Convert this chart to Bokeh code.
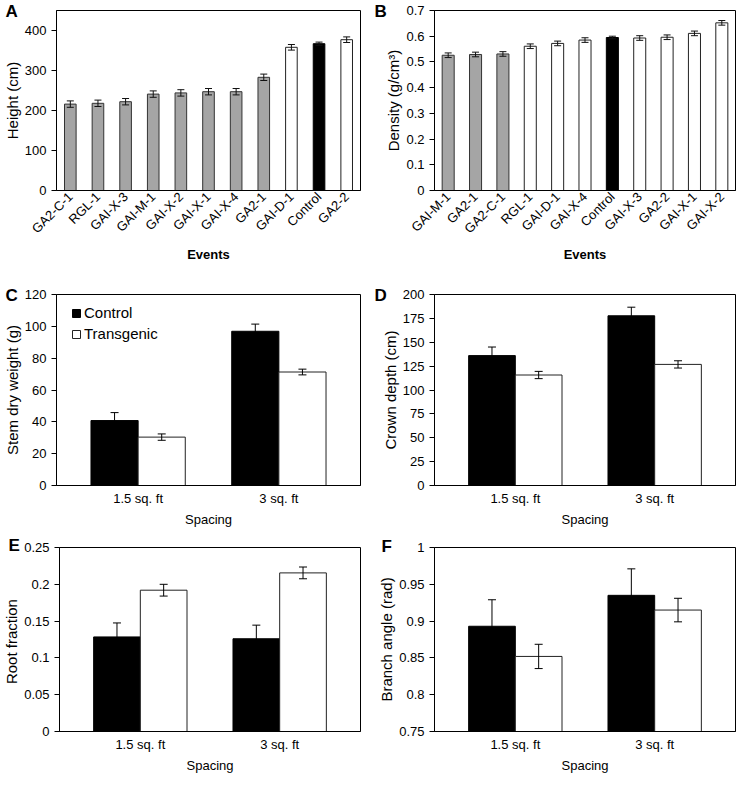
import math
from bokeh.plotting import figure
from bokeh.models import (FactorRange, Range1d, FixedTicker, Whisker, TeeHead, Title,
                          ColumnDataSource, CustomJSTickFormatter, Legend, LegendItem)
from bokeh.transform import dodge
from bokeh.layouts import column, row
from bokeh.embed import file_html
from bokeh.resources import INLINE

FONT = "Liberation Sans"

# ---------------- Data ----------------
# Panel A: height by event
events_a = ["GA2-C-1", "RGL-1", "GAI-X-3", "GAI-M-1", "GAI-X-2", "GAI-X-1",
            "GAI-X-4", "GA2-1", "GAI-D-1", "Control", "GA2-2"]
height_a = [216, 218, 222, 241, 244, 247, 247, 283, 358, 367, 377]
height_err_a = [8, 8, 8, 8, 8, 8, 8, 8, 7, 4, 7]
class_a = ["diff", "diff", "diff", "diff", "diff", "diff", "diff", "diff",
           "ns", "control", "ns"]
ticks_a = [0, 100, 200, 300, 400]

# Panel B: density by event
events_b = ["GAI-M-1", "GA2-1", "GA2-C-1", "RGL-1", "GAI-D-1", "GAI-X-4",
            "Control", "GAI-X-3", "GA2-2", "GAI-X-1", "GAI-X-2"]
density_b = [0.526, 0.529, 0.531, 0.561, 0.572, 0.585, 0.595, 0.593, 0.596, 0.611, 0.652]
density_err_b = [0.009, 0.009, 0.009, 0.009, 0.009, 0.009, 0.005, 0.009, 0.009, 0.009, 0.009]
class_b = ["diff", "diff", "diff", "ns", "ns", "ns", "control", "ns", "ns", "ns", "ns"]
ticks_b = [0, 0.1, 0.2, 0.3, 0.4, 0.5, 0.6, 0.7]

# Panels C-F: spacing trials
spacing = ["1.5 sq. ft", "3 sq. ft"]

stem_ctrl = [40.8, 96.9]
stem_ctrl_err = [5.0, 4.5]
stem_trans = [30.4, 71.3]
stem_trans_err = [2.0, 1.8]
ticks_c = [0, 20, 40, 60, 80, 100, 120]

crown_ctrl = [136.0, 177.7]
crown_ctrl_err = [9.0, 9.0]
crown_trans = [115.7, 126.8]
crown_trans_err = [3.8, 3.8]
ticks_d = [0, 25, 50, 75, 100, 125, 150, 175, 200]

root_ctrl = [0.1285, 0.1260]
root_ctrl_err = [0.019, 0.0185]
root_trans = [0.1920, 0.2155]
root_trans_err = [0.008, 0.008]
ticks_e = [0, 0.05, 0.1, 0.15, 0.2, 0.25]

angle_ctrl = [0.893, 0.935]
angle_ctrl_err = [0.036, 0.036]
angle_trans = [0.852, 0.915]
angle_trans_err = [0.0165, 0.016]
ticks_f = [0.75, 0.8, 0.85, 0.9, 0.95, 1.0]

# ---------------- Styling ----------------
FILL = {"diff": "#a5a5a5", "ns": "#ffffff", "control": "#000000"}
EDGE = {"diff": "#333333", "ns": "#222222", "control": "#000000"}

W_L, W_R = 372, 364
LEFT_L, RIGHT_L = 53, 12
LEFT_R, RIGHT_R = 62, 1
ROWS = {1: (284, 10, 94), 2: (251, 10, 50), 3: (240, 12, 39)}

fmt = CustomJSTickFormatter(code="return String(Math.round(tick*10000)/10000);")


def panel_title(letter, dx, standoff):
    # Panel letter drawn at the frame's top-left corner (pulled into the frame band)
    return Title(text=letter, align="left", offset=dx, standoff=standoff,
                 vertical_align="bottom", text_font=FONT, text_font_style="bold",
                 text_font_size="17px", text_color="black")


def base_fig(x_range, y_range, rownum, col, letter, ldx, standoff):
    h, top, bottom = ROWS[rownum]
    w = W_L if col == 0 else W_R
    left = LEFT_L if col == 0 else LEFT_R
    right = RIGHT_L if col == 0 else RIGHT_R
    p = figure(x_range=x_range, y_range=y_range, width=w, height=h,
               output_backend="svg", toolbar_location=None, tools="",
               min_border_top=top, min_border_bottom=bottom,
               min_border_left=left, min_border_right=right,
               title=panel_title(letter, ldx, standoff))
    p.xgrid.grid_line_color = None
    p.ygrid.grid_line_color = None
    p.outline_line_color = "black"
    p.outline_line_width = 1
    p.outline_line_alpha = 1
    p.background_fill_color = "white"
    p.border_fill_color = "white"
    for ax in (p.xaxis, p.yaxis):
        ax.axis_line_color = "black"
        ax.major_label_text_font = FONT
        ax.major_label_text_font_size = "13px"
        ax.major_label_text_color = "black"
        ax.axis_label_text_font = FONT
        ax.axis_label_text_color = "black"
        ax.minor_tick_line_color = None
    p.yaxis.major_tick_out = 5
    p.yaxis.major_tick_in = 0
    p.yaxis.major_tick_line_color = "black"
    p.yaxis.major_label_standoff = 5
    p.yaxis.axis_label_standoff = 1
    p.yaxis.axis_label_text_font_size = "15px"
    p.yaxis.axis_label_text_font_style = "normal"
    p.yaxis.formatter = fmt
    p.xaxis.major_tick_line_color = None
    p.xaxis.major_tick_out = 0
    p.xaxis.major_tick_in = 0
    return p


def event_panel(events, vals, errs, classes, ylabel, yend, ticks, col, letter, bar_w, ldx, lso):
    src = ColumnDataSource(dict(
        ev=events, val=vals,
        upper=[v + e for v, e in zip(vals, errs)],
        lower=[v - e for v, e in zip(vals, errs)],
        fill=[FILL[c] for c in classes],
        edge=[EDGE[c] for c in classes]))
    p = base_fig(FactorRange(factors=events, range_padding=0), Range1d(0, yend), 1, col,
                 letter, ldx, lso)
    p.vbar(x="ev", top="val", width=bar_w, source=src, fill_color="fill",
           line_color="edge", line_width=1)
    p.add_layout(Whisker(base="ev", upper="upper", lower="lower", source=src,
                         level="annotation", line_color="#111111", line_width=1,
                         upper_head=TeeHead(size=7, line_color="#111111", line_width=1),
                         lower_head=TeeHead(size=7, line_color="#111111", line_width=1)))
    p.yaxis.ticker = FixedTicker(ticks=ticks)
    p.yaxis.axis_label = ylabel
    p.xaxis.axis_label = "Events"
    p.xaxis.axis_label_text_font_size = "13px"
    p.xaxis.axis_label_text_font_style = "bold"
    p.xaxis.major_label_orientation = math.pi / 4
    p.xaxis.major_label_standoff = 4
    p.xaxis.axis_label_standoff = 3
    return p


def spacing_panel(ctrl, ctrl_err, trans, trans_err, ylabel, ystart, yend, ticks,
                  rownum, col, letter, ldx, lso, legend=False):
    src = ColumnDataSource(dict(
        sp=spacing, ctrl=ctrl, trans=trans,
        cu=[v + e for v, e in zip(ctrl, ctrl_err)],
        cl=[v - e for v, e in zip(ctrl, ctrl_err)],
        tu=[v + e for v, e in zip(trans, trans_err)],
        tl=[v - e for v, e in zip(trans, trans_err)]))
    xr = FactorRange(factors=spacing, range_padding=0.08)
    p = base_fig(xr, Range1d(ystart, yend), rownum, col, letter, ldx, lso)
    bw = 0.335
    r1 = p.vbar(x=dodge("sp", -bw / 2, range=xr), top="ctrl", bottom=ystart, width=bw,
                source=src, fill_color="black", line_color="black", line_width=1)
    r2 = p.vbar(x=dodge("sp", bw / 2, range=xr), top="trans", bottom=ystart, width=bw,
                source=src, fill_color="white", line_color="#222222", line_width=1)
    for off, up, lo in ((-bw / 2, "cu", "cl"), (bw / 2, "tu", "tl")):
        p.add_layout(Whisker(base=dodge("sp", off, range=xr), upper=up, lower=lo,
                             source=src, level="annotation", line_color="black", line_width=1,
                             upper_head=TeeHead(size=8, line_color="black", line_width=1),
                             lower_head=TeeHead(size=8, line_color="black", line_width=1)))
    p.yaxis.ticker = FixedTicker(ticks=ticks)
    p.yaxis.axis_label = ylabel
    p.xaxis.axis_label = "Spacing"
    p.xaxis.axis_label_text_font_size = "13px"
    p.xaxis.axis_label_text_font_style = "normal"
    p.xaxis.major_label_standoff = 5
    p.xaxis.axis_label_standoff = 3
    if legend:
        h, top, bottom = ROWS[rownum]
        fh = h - top - bottom
        lg = Legend(items=[LegendItem(label="Control", renderers=[r1]),
                           LegendItem(label="Transgenic", renderers=[r2])],
                    location=(15, fh - 48), padding=0, margin=0, spacing=4,
                    glyph_width=10, glyph_height=10, label_standoff=3,
                    label_text_font=FONT, label_text_font_size="15px",
                    label_text_color="black", border_line_alpha=0,
                    background_fill_alpha=0)
        p.add_layout(lg)
    return p


pA = event_panel(events_a, height_a, height_err_a, class_a, "Height (cm)", 450, ticks_a,
                 0, "A", 0.42, -51, -21)
pB = event_panel(events_b, density_b, density_err_b, class_b, "Density (g/cm³)", 0.7, ticks_b,
                 1, "B", 0.44, -60, -21)
pC = spacing_panel(stem_ctrl, stem_ctrl_err, stem_trans, stem_trans_err, "Stem dry weight (g)",
                   0, 120, ticks_c, 2, 0, "C", -51, -20, legend=True)
pD = spacing_panel(crown_ctrl, crown_ctrl_err, crown_trans, crown_trans_err, "Crown depth (cm)",
                   0, 200, ticks_d, 2, 1, "D", -60, -20)
pE = spacing_panel(root_ctrl, root_ctrl_err, root_trans, root_trans_err, "Root  fraction",
                   0, 0.25, ticks_e, 3, 0, "E", -51, -15)
pF = spacing_panel(angle_ctrl, angle_ctrl_err, angle_trans, angle_trans_err, "Branch angle (rad)",
                   0.75, 1.0, ticks_f, 3, 1, "F", -53, -17)

layout = column(row(pA, pB), row(pC, pD), row(pE, pF))
open("out.html", "w").write(file_html(layout, INLINE))
